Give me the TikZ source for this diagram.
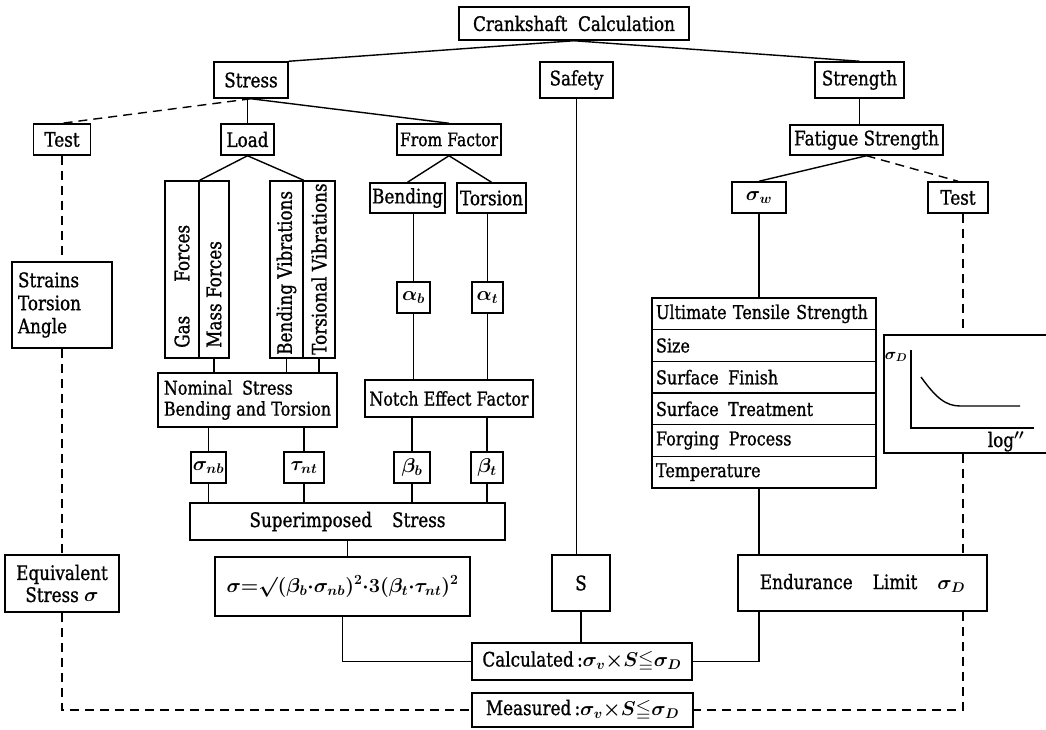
\documentclass[tikz,border=0pt]{standalone}
\usepackage{fix-cm}
\usepackage{amssymb}
\usepackage{fontspec}
\setmainfont{DejaVu Serif}[FakeStretch=0.84,FakeBold=1]
\usetikzlibrary{calc}
\begin{document}
\begin{tikzpicture}[x=1pt,y=-1pt,
  every node/.style={font=\fontsize{20}{23}\selectfont\boldmath},
  fnt/.style={font=\fontsize{#1}{22}\selectfont\boldmath},
  bx/.style 2 args={draw,line width=1.5pt,minimum width=#1pt,minimum height=#2pt,inner sep=2pt},
  row/.style={draw,line width=1.5pt,minimum height=31.67pt,text width=216pt,inner xsep=4pt,inner ysep=0pt,align=left,font=\fontsize{19}{22}\selectfont},
  vlab/.style={rotate=90,anchor=west,inner sep=0pt},
  conn/.style={line width=1.4pt},
  dconn/.style={line width=1.4pt,dash pattern=on 9pt off 6pt}]
\useasboundingbox (0,0) rectangle (1046,730);

% top levels
\node[bx={230}{33}] (crank) at (574,23.5) {Crankshaft\ \ Calculation};
\node[bx={74}{36}] (stress) at (251,80) {Stress};
\node[bx={73}{36}] (safety) at (576.5,80) {Safety};
\node[bx={89}{36}] (strength) at (859.5,80) {Strength};

\node[bx={57}{31}] (testL) at (62,139.5) {Test};
\node[bx={53}{31}] (load) at (247.5,139.5) {Load};
\node[bx={104}{31},fnt=18.5] (fromf) at (449,139.5) {From Factor};
\node[bx={153}{30}] (fatigue) at (866.5,140) {Fatigue Strength};

\node[bx={54}{31}] (sigw) at (759,197.5) {$\sigma_w$};
\node[bx={60}{31}] (testR) at (958,197.5) {Test};
\node[bx={71}{30}] (bend) at (407.5,198) {Bending};
\node[bx={69}{30}] (tors) at (491.5,198) {Torsion};

% left column
\node[draw,line width=1.5pt,minimum height=86pt,text width=88pt,inner xsep=6pt,align=left,font=\fontsize{20}{23}\selectfont] (strains) at (62,305) {Strains\\Torsion\\Angle};
\node[draw,line width=1.5pt,minimum width=114pt,minimum height=57pt,inner sep=2pt,align=center,font=\fontsize{20}{22}\selectfont\boldmath] (equiv) at (62,583.5) {Equivalent\\Stress $\sigma$};

% load columns
\node[bx={34}{177}] (gas) at (182,269.5) {};
\node[bx={30}{177}] (mass) at (214,269.5) {};
\node[bx={33}{177}] (bvib) at (286.5,269.5) {};
\node[bx={32}{177}] (tvib) at (319,269.5) {};
\node[vlab] (gasL) at (182,348) {Gas\hspace{1.7em}Forces};
\node[vlab] (massL) at (214,348) {Mass Forces};
\node[vlab] (bvibL) at (286.5,355) {Bending Vibrations};
\node[vlab] (tvibL) at (319,355) {Torsional Vibrations};

\node[draw,line width=1.5pt,minimum width=179pt,minimum height=54pt,inner sep=2pt,align=left,font=\fontsize{19}{21}\selectfont] (nominal) at (247.5,400) {Nominal\enspace Stress\\Bending and Torsion};

\node[bx={33}{31}] (alphab) at (413.5,297.5) {$\alpha_b$};
\node[bx={31}{31}] (alphat) at (487.5,297.5) {$\alpha_t$};
\node[bx={168}{37},fnt=19] (notch) at (449,398.5) {Notch Effect Factor};

\node[bx={33}{31}] (signb) at (208.5,467.5) {$\sigma_{nb}$};
\node[bx={40}{31}] (taunt) at (304,467.5) {$\tau_{nt}$};
\node[bx={36}{31}] (betab) at (412,467.5) {$\beta_b$};
\node[bx={32}{31}] (betat) at (487,467.5) {$\beta_t$};

\node[bx={315}{37}] (sup) at (347.5,521.5) {Superimposed\quad Stress};
\node[bx={255}{59}] (formula) at (342.5,586.5) {$\sigma{=}\surd(\beta_b{\cdot}\sigma_{nb})^2{\cdot}3(\beta_t{\cdot}\tau_{nt})^2$};

\node[bx={58}{56}] (S) at (581,583) {S};

% strength side
\node[row] (ut) at (764,313.83) {Ultimate Tensile Strength};
\node[row] (size) at (764,345.5) {Size};
\node[row] (sfin) at (764,377.17) {Surface\enspace Finish};
\node[row] (streat) at (764,408.83) {Surface\enspace Treatment};
\node[row] (forg) at (764,440.5) {Forging\enspace Process};
\node[row] (temp) at (764,472.17) {Temperature};

\node[bx={176}{118}] (graph) at (972,394) {};
\node[inner sep=0pt,fnt=16] (sigD) at (896,357) {$\sigma_D$};
\node[inner sep=0pt,anchor=base] (logn) at (1006,447) {log$''$};
\draw[conn] (911,350) -- (911,428) -- (1034,428);
\draw[conn] (921,377) .. controls (936,398) and (946,406) .. (960,406) -- (1020,406);

\node[bx={249}{56}] (endur) at (862.5,583) {Endurance\quad Limit\quad $\sigma_D$};

% bottom
\node[bx={220}{37}] (calc) at (582,661.5) {Calculated\,:$\sigma_v{\times}S{\leqq}\sigma_D$};
\node[bx={221}{34}] (meas) at (582.5,710) {Measured\,:$\sigma_v{\times}S{\leqq}\sigma_D$};

% connectors top
\draw[conn] (crank.south) -- (stress.north east);
\draw[conn] (crank.south) -- (strength.north);
\draw[dconn] (stress.south) -- (testL.north);
\draw[conn] (load.north |- stress.south) -- (load.north);
\draw[conn] (stress.south) -- (fromf.north);
\draw[conn] (strength.south) -- (strength.south |- fatigue.north);
\draw[conn] (fatigue.south) -- (sigw.north);
\draw[dconn] (fatigue.south) -- (testR.north);
\draw[conn] (load.south) -- (gas.north east);
\draw[conn] (load.south) -- (bvib.north east);
\draw[conn] (fromf.south) -- (bend.north);
\draw[conn] (fromf.south) -- (tors.north);

% alpha / beta chain
\draw[conn] (alphab.north |- bend.south) -- (alphab.north);
\draw[conn] (alphat.north |- tors.south) -- (alphat.north);
\draw[conn] (alphab.south) -- (alphab.south |- notch.north);
\draw[conn] (alphat.south) -- (alphat.south |- notch.north);
\draw[conn] (betab.north |- notch.south) -- (betab.north);
\draw[conn] (betat.north |- notch.south) -- (betat.north);
\draw[conn] (betab.south) -- (betab.south |- sup.north);
\draw[conn] (betat.south) -- (betat.south |- sup.north);

% load chain
\draw[conn] (mass.south) -- (mass.south |- nominal.north);
\draw[conn] (bvib.south) -- (bvib.south |- nominal.north);
\draw[conn] (tvib.south) -- (tvib.south |- nominal.north);
\draw[conn] (signb.north |- nominal.south) -- (signb.north);
\draw[conn] (taunt.north |- nominal.south) -- (taunt.north);
\draw[conn] (signb.south) -- (signb.south |- sup.north);
\draw[conn] (taunt.south) -- (taunt.south |- sup.north);
\draw[conn] (sup.south) -- (sup.south |- formula.north);
\draw[conn] (formula.south) -- (formula.south |- calc.west) -- (calc.west);

% safety
\draw[conn] (safety.south) -- (safety.south |- S.north);
\draw[conn] (S.south) -- (S.south |- calc.north);

% strength chain
\draw[conn] (sigw.south) -- (sigw.south |- ut.north);
\draw[conn] (sigw.south |- temp.south) -- (sigw.south |- endur.north);
\draw[conn] (sigw.south |- endur.south) -- (sigw.south |- calc.east) -- (calc.east);

% test paths
\draw[dconn] (testL.south) -- (strains.north);
\draw[dconn] (strains.south) -- (equiv.north);
\draw[dconn] (equiv.south) -- (equiv.south |- meas.west) -- (meas.west);
\coordinate (rx) at ([xshift=5pt]testR.south);
\draw[dconn] (rx) -- (rx |- graph.north);
\draw[dconn] (rx |- graph.south) -- (rx |- endur.north);
\draw[dconn] (rx |- endur.south) -- (rx |- meas.east) -- (meas.east);
\end{tikzpicture}
\end{document}
